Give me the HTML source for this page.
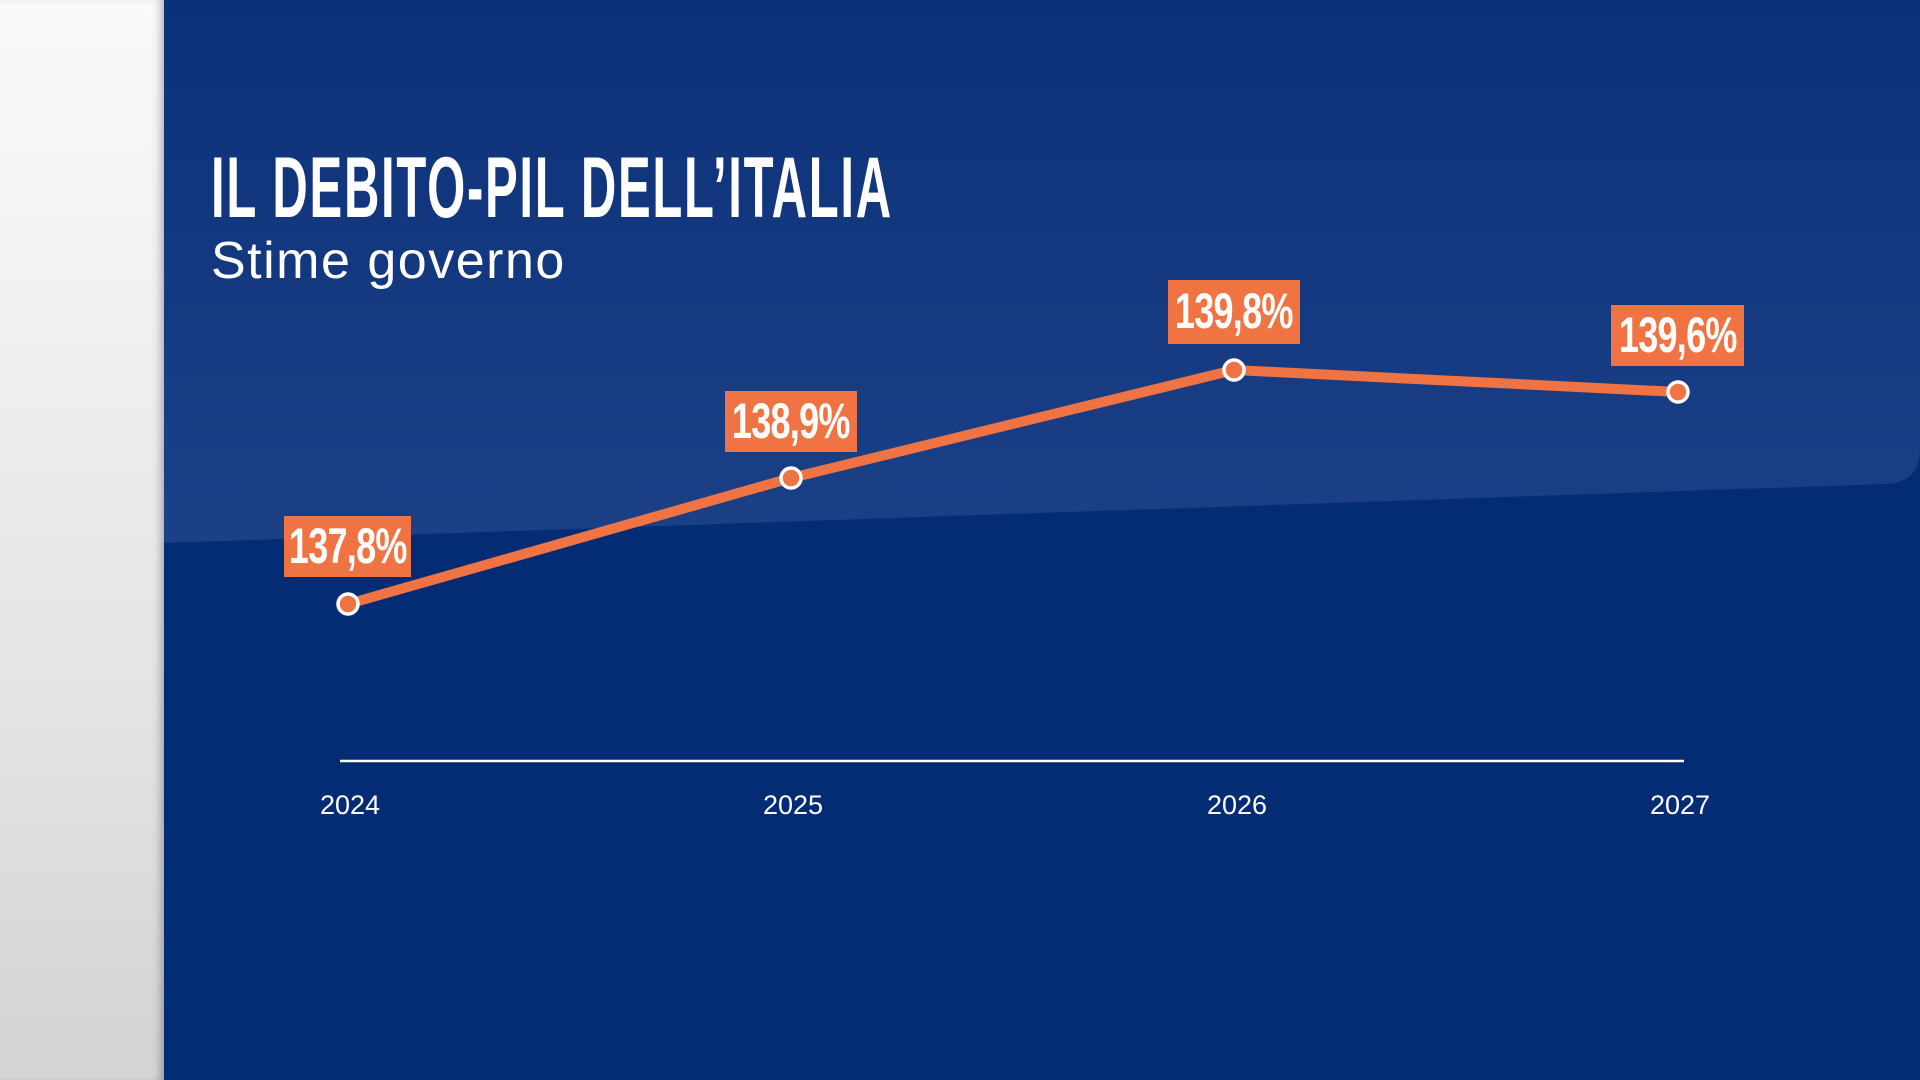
<!DOCTYPE html>
<html><head><meta charset="utf-8"><style>
html,body{margin:0;padding:0;width:1920px;height:1080px;overflow:hidden;background:#032c74}
.left{position:absolute;left:0;top:0;width:164px;height:1080px;background:linear-gradient(180deg,#fafafa 0%,#e6e6e6 60%,#d4d4d4 100%);box-shadow:inset -8px 0 10px -6px rgba(0,0,0,0.35)}
svg{position:absolute;left:0;top:0}
.title{position:absolute;left:211px;top:145px;font-family:"Liberation Sans",sans-serif;font-weight:bold;font-size:86px;color:#fff;transform:scaleX(0.57);transform-origin:left top;white-space:nowrap;letter-spacing:3px;line-height:1}
.sub{position:absolute;left:211px;top:235px;font-family:"Liberation Sans",sans-serif;font-size:52px;color:#fff;white-space:nowrap;line-height:1;letter-spacing:1.5px}
.lab{position:absolute;background:#f07443;display:flex;align-items:center;justify-content:center}
.lab span{color:#fff;font-family:"Liberation Sans",sans-serif;font-weight:bold;font-size:50px;transform:scaleX(0.72);letter-spacing:-1px;white-space:nowrap;line-height:1;margin-top:-2px}
.yr{position:absolute;top:790px;width:120px;margin-left:-60px;text-align:center;font-family:"Liberation Sans",sans-serif;font-size:27px;color:#fff}
</style></head><body>
<svg width="1920" height="1080">
<defs><linearGradient id="g" x1="0" y1="0" x2="0" y2="1"><stop offset="0" stop-color="#0c3179"/><stop offset="1" stop-color="#1b4086"/></linearGradient></defs>
<path d="M164 0 H1920 V450 Q1920 482 1886 484 L164 543 Z" fill="url(#g)"/>
<line x1="340" y1="761" x2="1684" y2="761" stroke="#fff" stroke-width="2.5"/>
<polyline points="348,604 791,478 1234,370 1678,392" fill="none" stroke="#f07443" stroke-width="10" stroke-linejoin="round"/>
<g fill="#f07443" stroke="#fff" stroke-width="3.5">
<circle cx="348" cy="604" r="10"/><circle cx="791" cy="478" r="10"/><circle cx="1234" cy="370" r="10"/><circle cx="1678" cy="392" r="10"/>
</g>
</svg>
<div class="left"></div>
<div class="title">IL DEBITO-PIL DELL’ITALIA</div>
<div class="sub">Stime governo</div>
<div class="lab" style="left:284px;top:516px;width:127px;height:61px"><span>137,8%</span></div>
<div class="lab" style="left:725px;top:391px;width:132px;height:61px"><span>138,9%</span></div>
<div class="lab" style="left:1168px;top:280px;width:132px;height:64px"><span>139,8%</span></div>
<div class="lab" style="left:1611px;top:305px;width:133px;height:61px"><span>139,6%</span></div>
<div class="yr" style="left:350px">2024</div>
<div class="yr" style="left:793px">2025</div>
<div class="yr" style="left:1237px">2026</div>
<div class="yr" style="left:1680px">2027</div>
</body></html>
